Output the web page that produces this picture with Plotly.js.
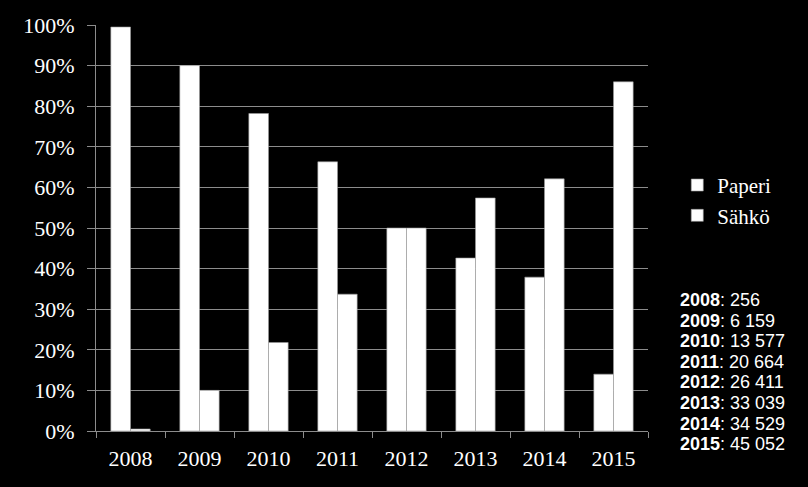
<!DOCTYPE html>
<html>
<head>
<meta charset="utf-8">
<script src="https://cdn.plot.ly/plotly-3.0.1.min.js"></script>
<style>html,body{margin:0;padding:0;background:#000;}#chart{width:808px;height:487px;}</style>
</head>
<body>
<div id="chart"></div>
<script>
const years = ['2008','2009','2010','2011','2012','2013','2014','2015'];
const paperi = [99.5, 90, 78.2, 66.3, 50, 42.6, 37.9, 14];
const sahko = [0.5, 10, 21.8, 33.7, 50, 57.4, 62.1, 86];
const totalLabels = ['256','6 159','13 577','20 664','26 411','33 039','34 529','45 052'];

const serif = '"Liberation Serif", "Times New Roman", serif';
const sans = '"Liberation Sans", Arial, sans-serif';

const traces = [
  {type:'bar', name:'Paperi', x:years, y:paperi,
   marker:{color:'#ffffff', line:{color:'#9a9a9a', width:0.6}}},
  {type:'bar', name:'Sähkö', x:years, y:sahko,
   marker:{color:'#ffffff', line:{color:'#9a9a9a', width:0.6}}}
];

const annotations = years.map((yr, i) => ({
  xref:'paper', yref:'paper', x:1.055, xanchor:'left',
  y:(431 - 300 - i*20.6)/406, yanchor:'middle',
  text:'<b>' + yr + '</b>: ' + totalLabels[i], showarrow:false,
  font:{family:sans, size:18, color:'#ffffff'}
}));

const layout = {
  width:808, height:487,
  paper_bgcolor:'#000000', plot_bgcolor:'#000000',
  margin:{l:96, r:160, t:25, b:56},
  barmode:'group', bargap:0.43, bargroupgap:0,
  showlegend:true,
  legend:{x:1.053, xanchor:'left', y:0.568, yanchor:'middle',
    font:{family:serif, size:21, color:'#ffffff'}, bgcolor:'rgba(0,0,0,0)',
    tracegroupgap:12, itemwidth:30},
  xaxis:{type:'category', showline:true, linecolor:'#8c8c8c', linewidth:1,
    ticks:'outside', ticklen:6, tickcolor:'#8c8c8c', tickson:'boundaries',
    ticklabelstandoff:8,
    showgrid:false, tickfont:{family:serif, size:22, color:'#ffffff'}},
  yaxis:{range:[0,100], dtick:10, ticksuffix:'%', showline:true,
    linecolor:'#8c8c8c', linewidth:1, ticks:'outside', ticklen:8,
    tickcolor:'#8c8c8c', showgrid:true, gridcolor:'#8c8c8c', gridwidth:1,
    ticklabelstandoff:8,
    zeroline:false, tickfont:{family:serif, size:22, color:'#ffffff'}},
  annotations:annotations
};

Plotly.newPlot('chart', traces, layout, {displayModeBar:false, staticPlot:true});
</script>
</body>
</html>
